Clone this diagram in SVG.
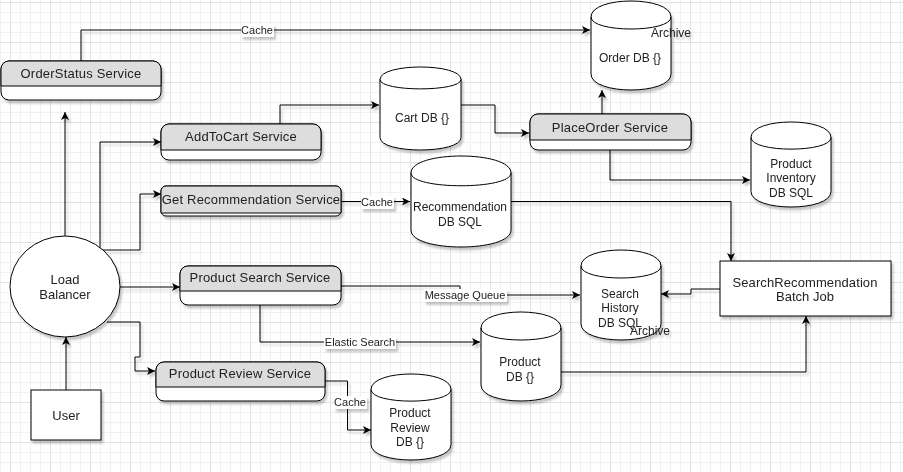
<svg xmlns="http://www.w3.org/2000/svg" width="903" height="472" viewBox="0 0 903 472">
<defs>
<pattern id="minor" width="10" height="10" patternUnits="userSpaceOnUse" x="0" y="2">
<rect x="0" y="0" width="1" height="10" fill="#f1f1f1"/>
<rect x="0" y="0" width="10" height="1" fill="#f1f1f1"/>
</pattern>
<pattern id="major" width="40" height="40" patternUnits="userSpaceOnUse" x="10" y="2">
<rect x="0" y="0" width="1" height="40" fill="#e2e2e2"/>
<rect x="0" y="0" width="40" height="1" fill="#e2e2e2"/>
</pattern>
<filter id="sh" x="-10%" y="-10%" width="130%" height="140%">
<feDropShadow dx="2" dy="3" stdDeviation="1.2" flood-color="#000" flood-opacity="0.22"/>
</filter>
<marker id="arr" viewBox="0 0 10 10" refX="10" refY="5" markerWidth="9" markerHeight="8" markerUnits="userSpaceOnUse" orient="auto">
<path d="M0,0 L10,5 L0,10 L2.5,5 Z" fill="#000"/>
</marker>
</defs>
<style>
.grid{stroke:none}
.box{fill:#fff;stroke:#000;stroke-width:1}
.hdr{fill:#dddddd;stroke:#000;stroke-width:1}
.cyl{fill:#fff;stroke:#000;stroke-width:1}
.arc{fill:none;stroke:#000;stroke-width:1}
.edge{fill:none;stroke:#000;stroke-width:1;marker-end:url(#arr)}
text{font-family:"Liberation Sans",Arial,sans-serif;fill:#222;text-anchor:middle}
.svc{font-size:13px;letter-spacing:0.2px}
.t13{font-size:13px}
.t12{font-size:12px}
.lbl{font-size:11px}
.lblbg{fill:#fff;stroke:none}
</style>
<rect x="0" y="0" width="903" height="472" fill="#fff"/>
<rect x="0" y="0" width="903" height="472" fill="url(#minor)"/>
<rect x="0" y="0" width="903" height="472" fill="url(#major)"/>

<g id="connectors" filter="url(#sh)">
<path class="edge" d="M81,61 V30 H590"/>
<path class="edge" d="M280,124 V105 H379"/>
<path class="edge" d="M461,105 H495 V133 H529"/>
<path class="edge" d="M602,114 V90"/>
<path class="edge" d="M610,150 V180 H750"/>
<path class="edge" d="M65,236 V112"/>
<path class="edge" d="M100,247.5 V142 H161"/>
<path class="edge" d="M102,250 H140 V194 H161"/>
<path class="edge" d="M341,201.5 H410"/>
<path class="edge" d="M511,201.5 H731 V261"/>
<path class="edge" d="M720,289 H691 V294 H661"/>
<path class="edge" d="M120,287 H180"/>
<path class="edge" d="M341,286 H460 V295 H580"/>
<path class="edge" d="M260,305 V342 H480"/>
<path class="edge" d="M561,372 H806 V316"/>
<path class="edge" d="M107,322 H140 V357 H135 V371 H155"/>
<path class="edge" d="M325,381 H347.5 V430 H371"/>
<path class="edge" d="M66,390 V337"/>
<g id="edge-labels">
<rect class="lblbg" x="241" y="24" width="33" height="13"/>
<text class="lbl" x="257" y="34">Cache</text>
<rect class="lblbg" x="361" y="196" width="33" height="13"/>
<text class="lbl" x="377" y="206">Cache</text>
<rect class="lblbg" x="424" y="289" width="83" height="13"/>
<text class="lbl" x="465" y="299">Message Queue</text>
<rect class="lblbg" x="324" y="336" width="72" height="13"/>
<text class="lbl" x="360" y="346">Elastic Search</text>
<rect class="lblbg" x="334" y="396" width="33" height="13"/>
<text class="lbl" x="350" y="406">Cache</text>
</g>
</g>

<g id="orderstatus-service" filter="url(#sh)">
<rect class="box" x="1" y="61" width="160" height="39" rx="8"/>
<path class="hdr" d="M1,86 V69 A8,8 0 0 1 9,61 H153 A8,8 0 0 1 161,69 V86 Z"/>
<text class="svc" x="81" y="77.5">OrderStatus Service</text>
</g>

<g id="addtocart-service" filter="url(#sh)">
<rect class="box" x="161" y="124" width="160" height="36" rx="8"/>
<path class="hdr" d="M161,150 V132 A8,8 0 0 1 169,124 H313 A8,8 0 0 1 321,132 V150 Z"/>
<text class="svc" x="241" y="140.5">AddToCart Service</text>
</g>

<g id="placeorder-service" filter="url(#sh)">
<rect class="box" x="530" y="114" width="161" height="36" rx="8"/>
<path class="hdr" d="M530,140 V122 A8,8 0 0 1 538,114 H683 A8,8 0 0 1 691,122 V140 Z"/>
<text class="svc" x="610" y="131.5">PlaceOrder Service</text>
</g>

<g id="getrecommendation-service" filter="url(#sh)">
<rect class="box" x="161" y="186" width="180" height="30" rx="5"/>
<path class="hdr" d="M161,213 V191 A5,5 0 0 1 166,186 H336 A5,5 0 0 1 341,191 V213 Z"/>
<text class="svc" x="251" y="203.5">Get Recommendation Service</text>
</g>

<g id="productsearch-service" filter="url(#sh)">
<rect class="box" x="180" y="266" width="161" height="39" rx="8"/>
<path class="hdr" d="M180,291 V274 A8,8 0 0 1 188,266 H333 A8,8 0 0 1 341,274 V291 Z"/>
<text class="svc" x="260" y="281.5">Product Search Service</text>
</g>

<g id="productreview-service" filter="url(#sh)">
<rect class="box" x="156" y="362" width="169" height="39" rx="8"/>
<path class="hdr" d="M156,387 V370 A8,8 0 0 1 164,362 H317 A8,8 0 0 1 325,370 V387 Z"/>
<text class="svc" x="240" y="377.5">Product Review Service</text>
</g>

<g id="load-balancer" filter="url(#sh)">
<ellipse class="box" cx="65" cy="286.5" rx="55" ry="50.5"/>
<text class="t13" x="65" y="283.5">Load</text>
<text class="t13" x="65" y="298.5">Balancer</text>
</g>

<g id="user" filter="url(#sh)">
<rect class="box" x="31" y="390" width="70" height="50"/>
<text class="t13" x="66" y="419.5">User</text>
</g>

<g id="batch-job" filter="url(#sh)">
<rect class="box" x="720" y="261" width="171" height="55"/>
<text class="t13" x="805" y="286.5" style="letter-spacing:0.1px">SearchRecommendation</text>
<text class="t13" x="805" y="300.5">Batch Job</text>
</g>

<g id="order-db" filter="url(#sh)">
<path class="cyl" d="M591,17 C591,-4.33 671,-4.33 671,17 V74 C671,95.33 591,95.33 591,74 Z"/>
<path class="arc" d="M591,17 C591,33 671,33 671,17"/>
<text class="t12" x="630" y="62">Order DB {}</text>
<text class="t12" x="671" y="37">Archive</text>
</g>

<g id="cart-db" filter="url(#sh)">
<path class="cyl" d="M380,79.5 C380,62.83 461,62.83 461,79.5 V137.5 C461,154.17 380,154.17 380,137.5 Z"/>
<path class="arc" d="M380,79.5 C380,92 461,92 461,79.5"/>
<text class="t12" x="422" y="122">Cart DB {}</text>
</g>

<g id="recommendation-db" filter="url(#sh)">
<path class="cyl" d="M411,173 C411,150.33 511,150.33 511,173 V230 C511,252.67 411,252.67 411,230 Z"/>
<path class="arc" d="M411,173 C411,190 511,190 511,173"/>
<text class="t12" x="460" y="211">Recommendation</text>
<text class="t12" x="460" y="226">DB SQL</text>
</g>

<g id="product-inventory-db" filter="url(#sh)">
<path class="cyl" d="M751,137.5 C751,116.83 831,116.83 831,137.5 V191.5 C831,212.17 751,212.17 751,191.5 Z"/>
<path class="arc" d="M751,137.5 C751,153 831,153 831,137.5"/>
<text class="t12" x="791" y="168">Product</text>
<text class="t12" x="791" y="182">Inventory</text>
<text class="t12" x="791" y="197">DB SQL</text>
</g>

<g id="search-history-db" filter="url(#sh)">
<path class="cyl" d="M581,266 C581,244.67 661,244.67 661,266 V324 C661,345.33 581,345.33 581,324 Z"/>
<path class="arc" d="M581,266 C581,282 661,282 661,266"/>
<text class="t12" x="620" y="298">Search</text>
<text class="t12" x="620" y="312">History</text>
<text class="t12" x="620" y="327">DB SQL</text>
<text class="t12" x="650" y="335">Archive</text>
</g>

<g id="product-db" filter="url(#sh)">
<path class="cyl" d="M481,328 C481,306.67 561,306.67 561,328 V385 C561,406.33 481,406.33 481,385 Z"/>
<path class="arc" d="M481,328 C481,344 561,344 561,328"/>
<text class="t12" x="520" y="366">Product</text>
<text class="t12" x="520" y="381">DB {}</text>
</g>

<g id="product-review-db" filter="url(#sh)">
<path class="cyl" d="M371,389.5 C371,368.83 451,368.83 451,389.5 V444.5 C451,465.17 371,465.17 371,444.5 Z"/>
<path class="arc" d="M371,389.5 C371,405 451,405 451,389.5"/>
<text class="t12" x="410" y="417">Product</text>
<text class="t12" x="410" y="432">Review</text>
<text class="t12" x="410" y="446">DB {}</text>
</g>
</svg>
